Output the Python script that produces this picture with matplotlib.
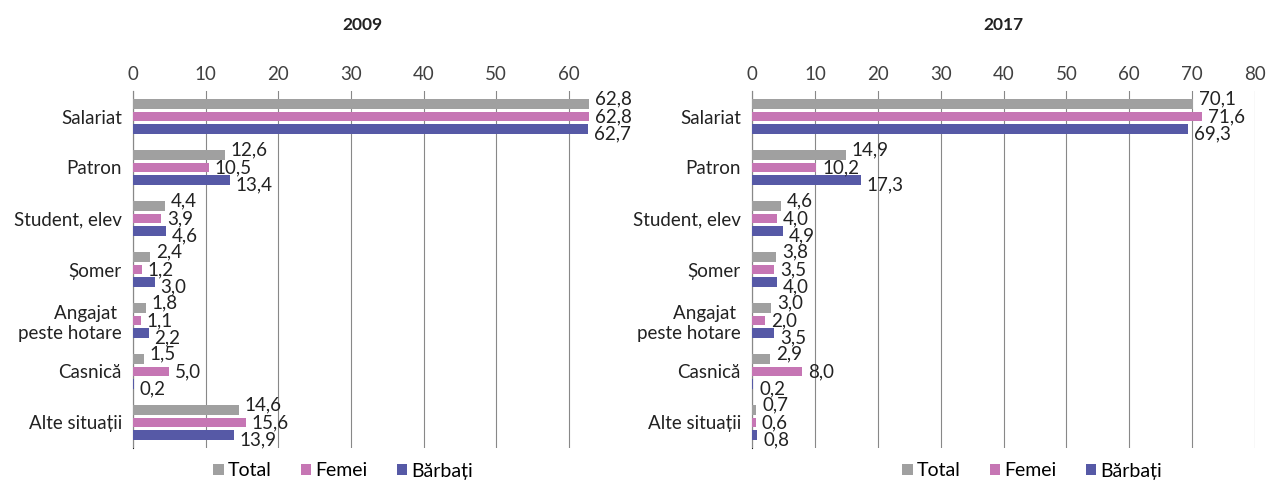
import numpy as np
import matplotlib.pyplot as plt

plt.rcParams['font.family'] = ['Lato', 'DejaVu Sans']

categories = ['Salariat', 'Patron', 'Student, elev', 'Șomer', 'Angajat \npeste hotare',
              'Casnică', 'Alte situații']
series = ['Total', 'Femei', 'Bărbați']
colors = ['#a0a0a0', '#c676b4', '#5659a6']

total_2009 = [62.8, 12.6, 4.4, 2.4, 1.8, 1.5, 14.6]
femei_2009 = [62.8, 10.5, 3.9, 1.2, 1.1, 5.0, 15.6]
barbati_2009 = [62.7, 13.4, 4.6, 3.0, 2.2, 0.2, 13.9]

total_2017 = [70.1, 14.9, 4.6, 3.8, 3.0, 2.9, 0.7]
femei_2017 = [71.6, 10.2, 4.0, 3.5, 2.0, 8.0, 0.6]
barbati_2017 = [69.3, 17.3, 4.9, 4.0, 3.5, 0.2, 0.8]

fig = plt.figure(figsize=(12.74, 4.84), dpi=100)
ax1 = fig.add_axes([133 / 1274, 1 - 448 / 484, (592 - 133) / 1274, (448 - 91) / 484])
ax2 = fig.add_axes([752 / 1274, 1 - 448 / 484, (1255 - 752) / 1274, (448 - 91) / 484])


def draw(ax, data, title, xmax, ticks, legend_x):
    y = np.arange(len(categories))
    offsets = [-0.245, 0, 0.245]
    for i, (vals, name, c) in enumerate(zip(data, series, colors)):
        ax.barh(y + offsets[i], vals, height=0.18, color=c, label=name, zorder=3)
        for v, yy in zip(vals, y + offsets[i] * 1.4):
            ax.text(v + xmax * 0.012, yy, f'{v:.1f}'.replace('.', ','),
                    va='center', ha='left', fontsize=13.5, color='#222222', zorder=5)
    ax.set_ylim(len(categories) - 0.5, -0.5)
    ax.set_xlim(0, xmax)
    ax.set_yticks(y)
    ax.set_yticklabels(categories, fontsize=13.5, color='#222222')
    ax.set_xticks(ticks)
    ax.xaxis.tick_top()
    ax.tick_params(axis='x', length=0, labelsize=13.5, labelcolor='#404040', pad=6)
    ax.tick_params(axis='y', length=0, pad=8)
    for s in ['top', 'right', 'bottom']:
        ax.spines[s].set_visible(False)
    ax.spines['left'].set_color('#222222')
    ax.spines['left'].set_zorder(2)
    ax.set_axisbelow(False)
    ax.grid(axis='x', color='#888888', linewidth=0.8, zorder=4)
    for gl in ax.get_xgridlines():
        gl.set_zorder(4)
    ax.set_title(title, fontsize=12.5, fontweight='bold', color='#222222', pad=44)
    fig.legend(*ax.get_legend_handles_labels(), loc='center', ncol=3,
               bbox_to_anchor=(legend_x, 1 - 471 / 484), frameon=False,
               fontsize=14, handlelength=0.55, handleheight=0.55,
               handletextpad=0.2, columnspacing=1.5)


draw(ax1, [total_2009, femei_2009, barbati_2009], '2009', 63.2,
     [0, 10, 20, 30, 40, 50, 60], 343 / 1274)
draw(ax2, [total_2017, femei_2017, barbati_2017], '2017', 80,
     [0, 10, 20, 30, 40, 50, 60, 70, 80], 1032 / 1274)

fig.savefig('out.png', dpi=100)
